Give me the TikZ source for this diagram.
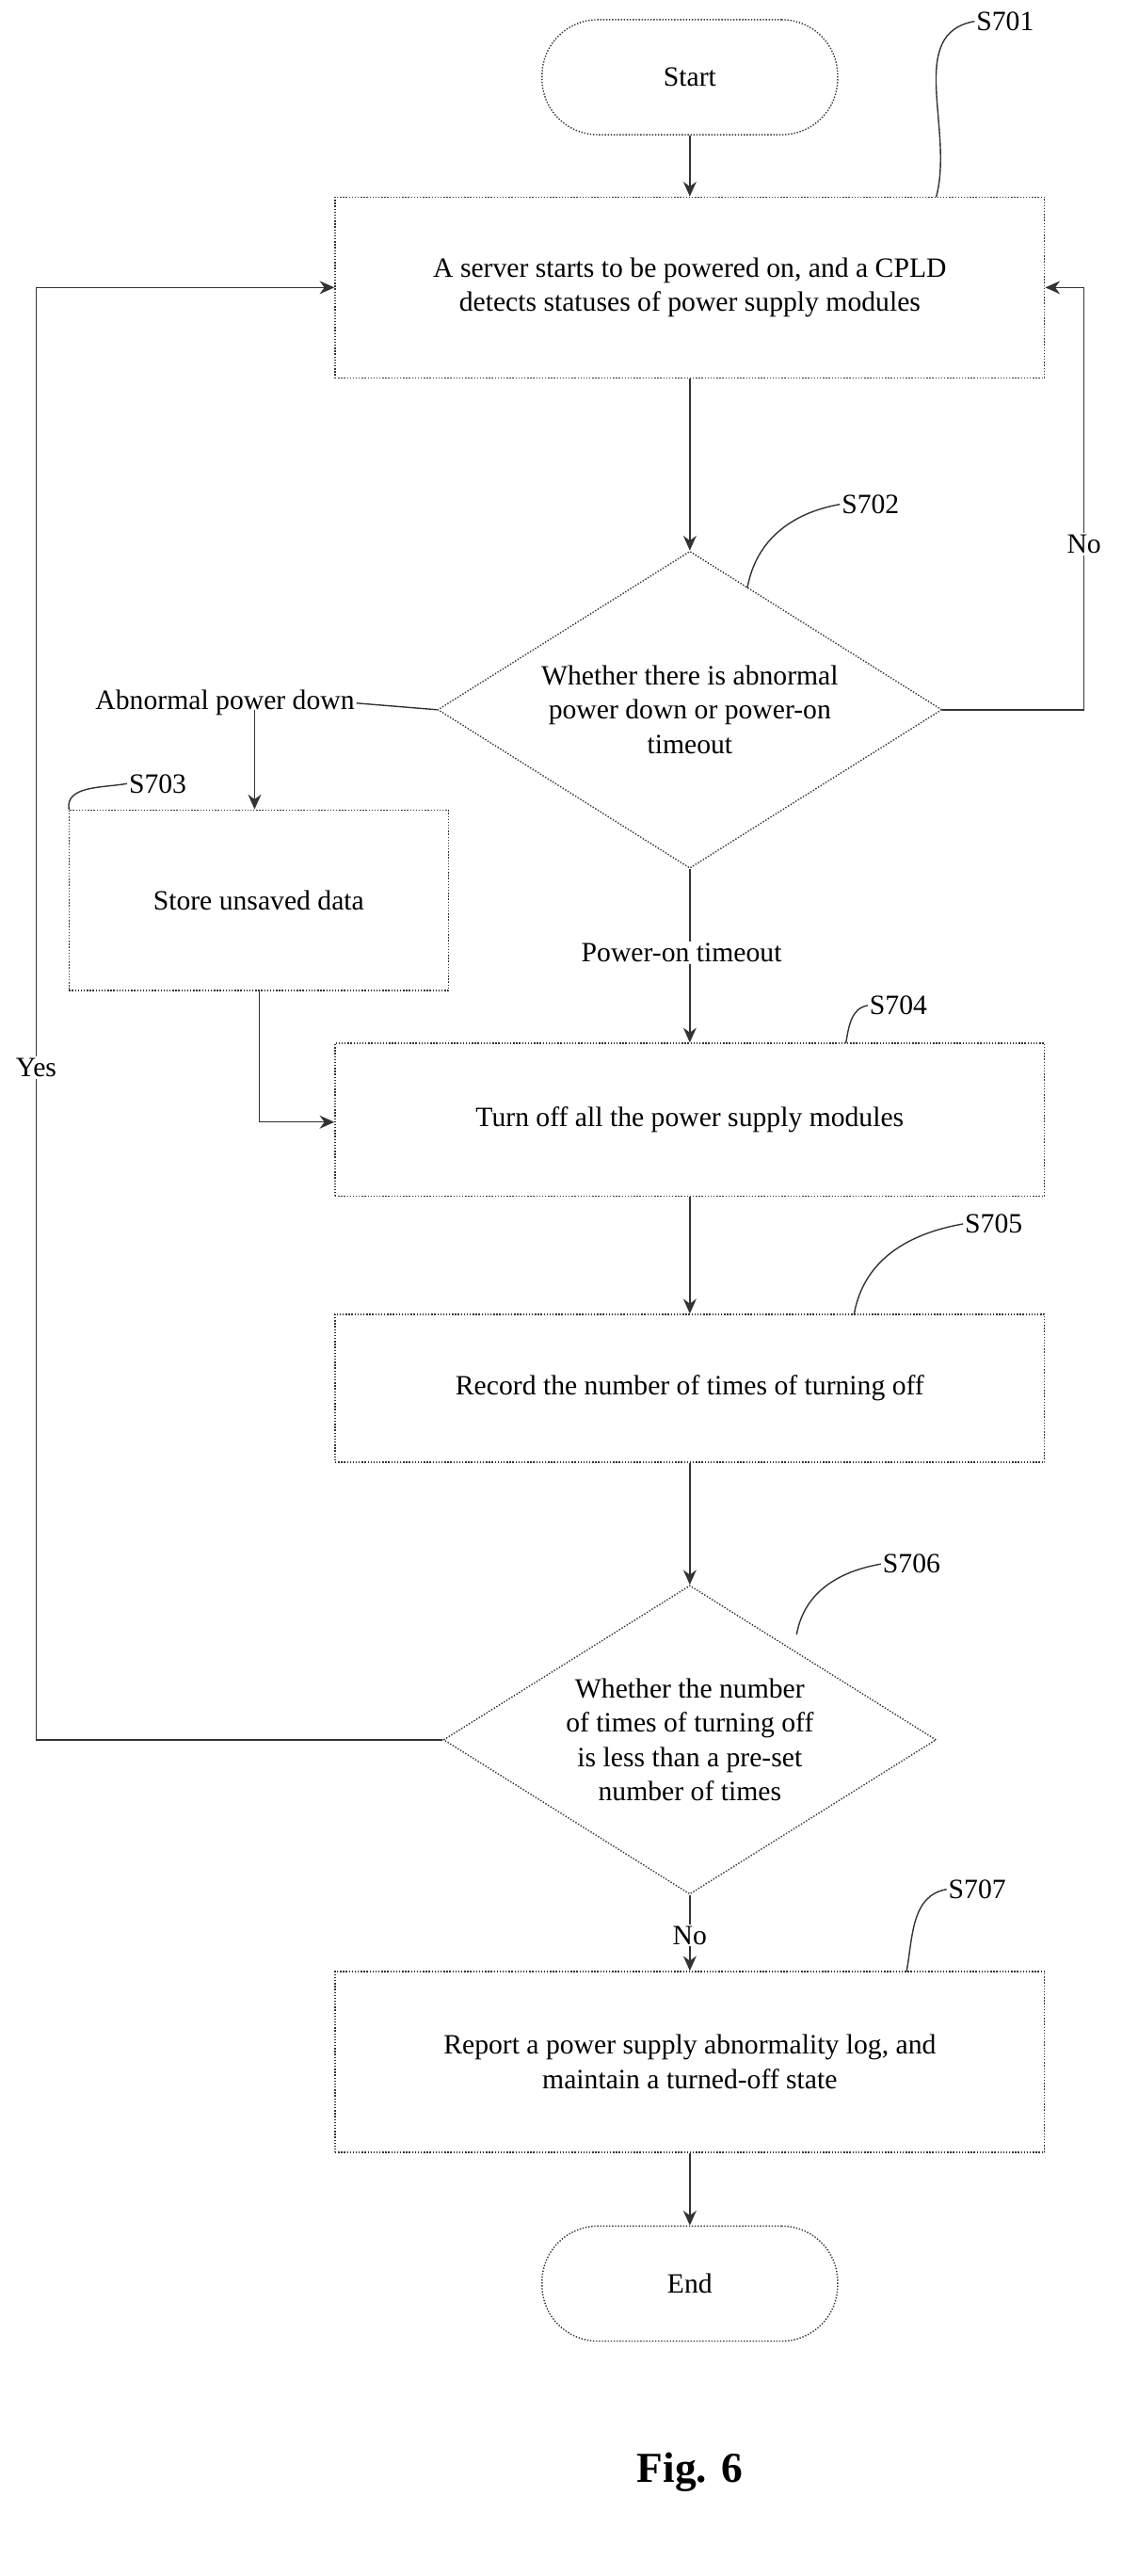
\documentclass[tikz,border=0pt]{standalone}
\usepackage{fontspec}
\setmainfont{Liberation Serif}
\usetikzlibrary{arrows.meta,shapes.geometric}
\begin{document}
\begin{tikzpicture}[x=1pt,y=-1pt,
  every node/.style={font=\fontsize{17}{21}\selectfont},
  box/.style={draw=black!80,densely dotted,line width=0.8pt,minimum width=432pt,align=center},
  term/.style={draw=black!80,densely dotted,line width=0.8pt,rounded corners=34pt,minimum width=180pt,minimum height=70pt},
  dia/.style={draw=black!80,densely dotted,line width=0.8pt,diamond,aspect=1.6,inner sep=0pt,align=center},
  ln/.style={draw=black!80,line width=0.8pt},
  arr/.style={ln,-{Stealth[length=9pt,width=8pt]}},
  lab/.style={inner sep=1pt}]
\useasboundingbox (0,0) rectangle (683,1568);
\node[term] (start) at (420,47) {Start};
\node[box,minimum height=110pt] (s701) at (420,175) {A server starts to be powered on, and a CPLD\\detects statuses of power supply modules};
\node[dia,minimum width=307pt,minimum height=193pt] (s702) at (420,432) {Whether there is abnormal\\power down or power-on\\timeout};
\node[box,minimum width=231pt,minimum height=110pt] (s703) at (157.5,548) {Store unsaved data};
\node[box,minimum height=93pt] (s704) at (420,681.5) {Turn off all the power supply modules};
\node[box,minimum height=90pt] (s705) at (420,845) {Record the number of times of turning off};
\node[dia,minimum width=300pt,minimum height=188pt] (s706) at (420,1059) {Whether the number\\of times of turning off\\is less than a pre-set\\number of times};
\node[box,minimum height=110pt] (s707) at (420,1255) {Report a power supply abnormality log, and\\maintain a turned-off state};
\node[term] (end) at (420,1390) {End};
\node[font=\bfseries\fontsize{26}{30}\selectfont] (fig) at (420,1505) {Fig. 6};
% step labels
\node[lab] (l701) at (612,13) {S701};
\node[lab] (l702) at (530,307) {S702};
\node[lab] (l703) at (96,477) {S703};
\node[lab] (l704) at (547,612) {S704};
\node[lab] (l705) at (605,745) {S705};
\node[lab] (l706) at (555,952) {S706};
\node[lab] (l707) at (595,1150) {S707};
\draw[ln] (570,120) to[out=75,in=190] (l701.west);
\draw[ln] (455,358) to[out=80,in=190] (l702.west);
\draw[ln] (42,493) to[out=100,in=190] (l703.west);
\draw[ln] (515,635) to[out=80,in=190] (l704.west);
\draw[ln] (520,800) to[out=80,in=190] (l705.west);
\draw[ln] (485,995) to[out=80,in=190] (l706.west);
\draw[ln] (552,1200) to[out=80,in=190] (l707.west);
% texts
\node[lab] (abn) at (137,428) {Abnormal power down};
\node[lab] (pot) at (415,580) {Power-on timeout};
\node[lab] (no1) at (660,331) {No};
\node[lab] (yes) at (22,650) {Yes};
\node[lab] (no2) at (420,1178) {No};
\coordinate (c1) at (660,432);
\coordinate (c2) at (660,175);
\coordinate (c3) at (155,432);
\coordinate (c4) at (158,683);
\coordinate (c5) at (22,1059);
\coordinate (c6) at (22,175);
% connectors
\draw[arr] (start) -- (s701);
\draw[arr] (s701) -- (s702);
\draw[ln] (s702.east) -- (c1) -- (no1.south -| c1);
\draw[arr] (no1.north -| c2) -- (c2) -- (s701.east);
\draw[ln] (s702.west) -- (abn.east);
\draw[arr] (c3) -- (s703.north -| c3);
\draw[ln] (s703.south -| c4) -- (c4);
\draw[arr] (c4) -- (c4 -| s704.west);
\draw[ln] (s702.south) -- (pot.north -| s702.south);
\draw[arr] (pot.south -| s704.north) -- (s704.north);
\draw[arr] (s704) -- (s705);
\draw[arr] (s705) -- (s706);
\draw[ln] (s706.west) -- (c5) -- (yes.south -| c5);
\draw[arr] (yes.north -| c6) -- (c6) -- (s701.west);
\draw[ln] (s706.south) -- (no2);
\draw[arr] (no2) -- (s707);
\draw[arr] (s707) -- (end);
\end{tikzpicture}
\end{document}
